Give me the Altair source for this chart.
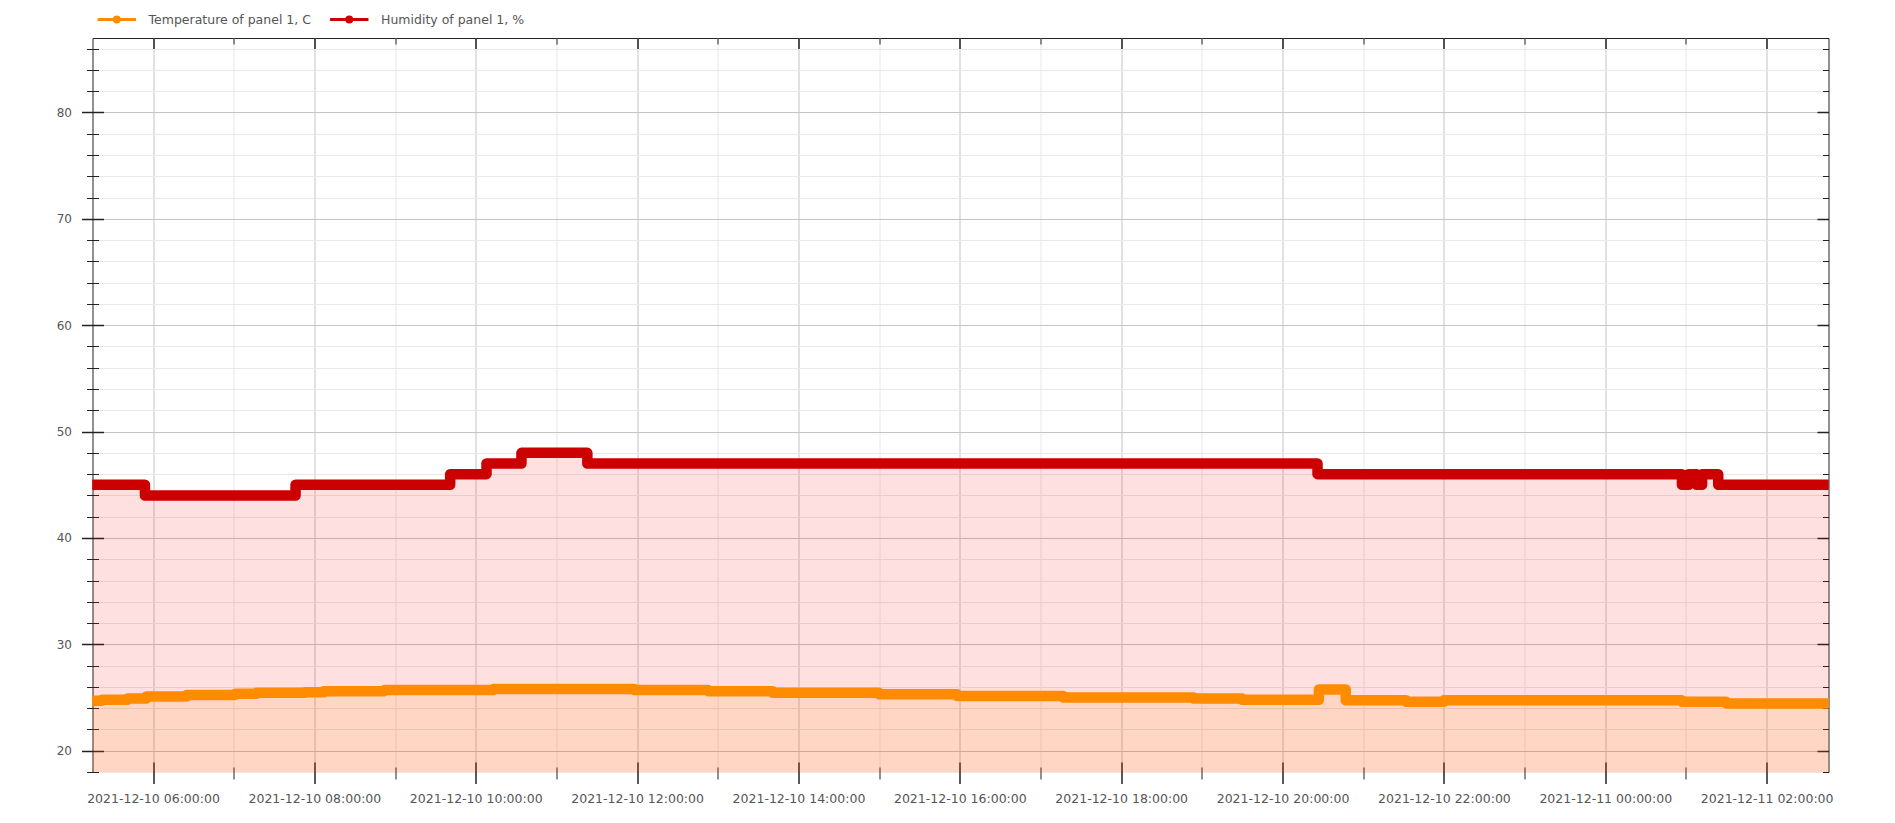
import altair as alt
import pandas as pd

# ---------------- data ----------------
series_names = ["Temperature of panel 1, C", "Humidity of panel 1, %"]
line_colors = ["#ff8c00", "#cc0000"]
area_colors = ["#ff8c00", "#ff0000"]

hum_times = [
    "2021-12-10T05:15:00", "2021-12-10T05:54:00", "2021-12-10T07:46:00",
    "2021-12-10T09:41:00", "2021-12-10T10:08:00", "2021-12-10T10:34:00",
    "2021-12-10T11:23:00", "2021-12-10T20:26:00", "2021-12-11T00:57:00",
    "2021-12-11T01:02:00", "2021-12-11T01:08:00", "2021-12-11T01:12:00",
    "2021-12-11T01:24:00", "2021-12-11T02:47:00",
]
hum_values = [45, 44, 45, 46, 47, 48, 47, 46, 45, 46, 45, 46, 45, 45]

temp_times = [
    "2021-12-10T05:15:00", "2021-12-10T05:22:00", "2021-12-10T05:41:00",
    "2021-12-10T05:55:00", "2021-12-10T06:25:00", "2021-12-10T07:01:00",
    "2021-12-10T07:17:00", "2021-12-10T07:53:00", "2021-12-10T08:07:00",
    "2021-12-10T08:52:00", "2021-12-10T10:13:00", "2021-12-10T11:58:00",
    "2021-12-10T12:53:00", "2021-12-10T13:41:00", "2021-12-10T15:00:00",
    "2021-12-10T15:58:00", "2021-12-10T17:17:00", "2021-12-10T18:54:00",
    "2021-12-10T19:30:00", "2021-12-10T20:27:00", "2021-12-10T20:47:00",
    "2021-12-10T21:32:00", "2021-12-10T22:00:00", "2021-12-11T00:57:00",
    "2021-12-11T01:30:00", "2021-12-11T02:47:00",
]
temp_values = [24.7, 24.8, 24.9, 25.1, 25.25, 25.35, 25.45, 25.5, 25.6, 25.7,
               25.8, 25.7, 25.6, 25.45, 25.3, 25.15, 25.0, 24.9, 24.8, 25.75,
               24.75, 24.6, 24.75, 24.6, 24.45, 24.45]

x_domain = ["2021-12-10 05:15", "2021-12-11 02:46"]
x_major = ["2021-12-10 06:00", "2021-12-10 08:00", "2021-12-10 10:00",
           "2021-12-10 12:00", "2021-12-10 14:00", "2021-12-10 16:00",
           "2021-12-10 18:00", "2021-12-10 20:00", "2021-12-10 22:00",
           "2021-12-11 00:00", "2021-12-11 02:00"]
x_minor = ["2021-12-10 07:00", "2021-12-10 09:00", "2021-12-10 11:00",
           "2021-12-10 13:00", "2021-12-10 15:00", "2021-12-10 17:00",
           "2021-12-10 19:00", "2021-12-10 21:00", "2021-12-10 23:00",
           "2021-12-11 01:00"]
y_domain = [18, 87]
y_major = [20, 30, 40, 50, 60, 70, 80]
y_minor = [18, 22, 24, 26, 28, 32, 34, 36, 38, 42, 44, 46, 48, 52, 54, 56, 58,
           62, 64, 66, 68, 72, 74, 76, 78, 82, 84, 86]

df = pd.DataFrame({
    "time": temp_times + hum_times,
    "value": temp_values + hum_values,
    "series": [series_names[0]] * len(temp_times) + [series_names[1]] * len(hum_times),
})


def dt(s):
    d, t = s.split(" ")
    y, m, dd = map(int, d.split("-"))
    hh, mm = map(int, t.split(":"))
    return alt.DateTime(year=y, month=m, date=dd, hours=hh, minutes=mm)


TICK = "#222222"
FONT = "DejaVu Sans"
LABEL = "#555555"
GRID_MAJOR = "#c4c4c4"
GRID_MINOR = "#e8e8e8"


def ax(orient, values, size, offset, width, grid_color=None, **kw):
    args = dict(orient=orient, values=values, tickSize=size, offset=offset,
                tickWidth=width, tickColor=TICK, domain=False, title=None,
                labels=False, grid=grid_color is not None)
    if grid_color is not None:
        args["gridColor"] = grid_color
        args["gridWidth"] = 1
    args.update(kw)
    return alt.Axis(**args)


xmaj = [dt(s) for s in x_major]
xmin = [dt(s) for s in x_minor]

x_bottom_major = ax("bottom", xmaj, 21.5, -10, 1.5, GRID_MAJOR, labels=True,
                    labelFontSize=12.5, labelColor=LABEL, labelFont=FONT,
                    labelPadding=9, format="%Y-%m-%d %H:%M:%S",
                    labelFlush=False, labelOverlap=False)
x_bottom_minor = ax("bottom", xmin, 12, -5, 1, GRID_MINOR)
x_top_major = ax("top", xmaj, 10.5, -10.5, 1.5)
x_top_minor = ax("top", xmin, 6, -6, 1)

y_left_major = ax("left", y_major, 22, -11, 1.5, GRID_MAJOR, labels=True,
                  labelFontSize=12, labelColor=LABEL, labelFont=FONT,
                  labelPadding=10)
y_left_minor = ax("left", y_minor, 12, -6, 1, GRID_MINOR)
y_right_major = ax("right", y_major, 11.5, -11.5, 1.5)
y_right_minor = ax("right", y_minor, 6, -6, 1)

x_scale = alt.Scale(domain=[dt(x_domain[0]), dt(x_domain[1])])
y_scale = alt.Scale(domain=y_domain, zero=False, nice=False)

legend_path = ("M-2.4,0L2.4,0M0.31,0A0.31,0.31,0,1,1,-0.31,0"
               "A0.31,0.31,0,1,1,0.31,0Z")
legend_kw = dict(orient="none", legendX=14.8, legendY=-28, direction="horizontal",
                 title=None, symbolType=legend_path, symbolSize=256,
                 symbolStrokeWidth=3, symbolStrokeColor="transparent",
                 labelFontSize=12.5, labelColor=LABEL, labelFont=FONT,
                 labelLimit=400, labelOffset=22.2, columnPadding=12.5)

base = alt.Chart(df)

hum_area = base.transform_filter(alt.datum.series == series_names[1]).mark_area(
    interpolate="step-after", color=area_colors[1], fillOpacity=0.12, clip=True
).encode(
    x=alt.X("time:T", scale=x_scale, axis=x_bottom_minor),
    y=alt.Y("value:Q", scale=y_scale, axis=y_left_minor),
    y2=alt.Y2(datum=y_domain[0]),
)

temp_area = base.transform_filter(alt.datum.series == series_names[0]).mark_area(
    interpolate="step-after", color=area_colors[0], fillOpacity=0.125, clip=True
).encode(
    x=alt.X("time:T", scale=x_scale, axis=x_bottom_major),
    y=alt.Y("value:Q", scale=y_scale, axis=y_left_major),
    y2=alt.Y2(datum=y_domain[0]),
)

lines = base.mark_line(
    interpolate="step-after", strokeCap="round", strokeJoin="round", clip=True
).encode(
    x=alt.X("time:T", scale=x_scale, axis=x_top_major),
    y=alt.Y("value:Q", scale=y_scale, axis=y_right_major),
    stroke=alt.Stroke("series:N", scale=alt.Scale(domain=series_names, range=line_colors),
                      legend=alt.Legend(**legend_kw)),
    strokeWidth=alt.value(10.5),
)

points = base.mark_circle(clip=True, opacity=1).encode(
    x=alt.X("time:T", scale=x_scale, axis=x_top_minor),
    y=alt.Y("value:Q", scale=y_scale, axis=y_right_minor),
    fill=alt.Fill("series:N", scale=alt.Scale(domain=series_names, range=line_colors),
                  legend=alt.Legend(**legend_kw)),
    size=alt.value(85),
)

chart = alt.layer(hum_area, temp_area, lines, points).resolve_axis(
    x="independent", y="independent"
).properties(
    width=1736, height=734,
    autosize=alt.AutoSizeParams(type="none"),
    padding={"left": 84.5, "top": 30, "right": 50, "bottom": 40},
).configure(font=FONT, background="white").configure_view(stroke=TICK, strokeWidth=1)

chart.save("out.html", embed_options={"renderer": "svg", "actions": False})
